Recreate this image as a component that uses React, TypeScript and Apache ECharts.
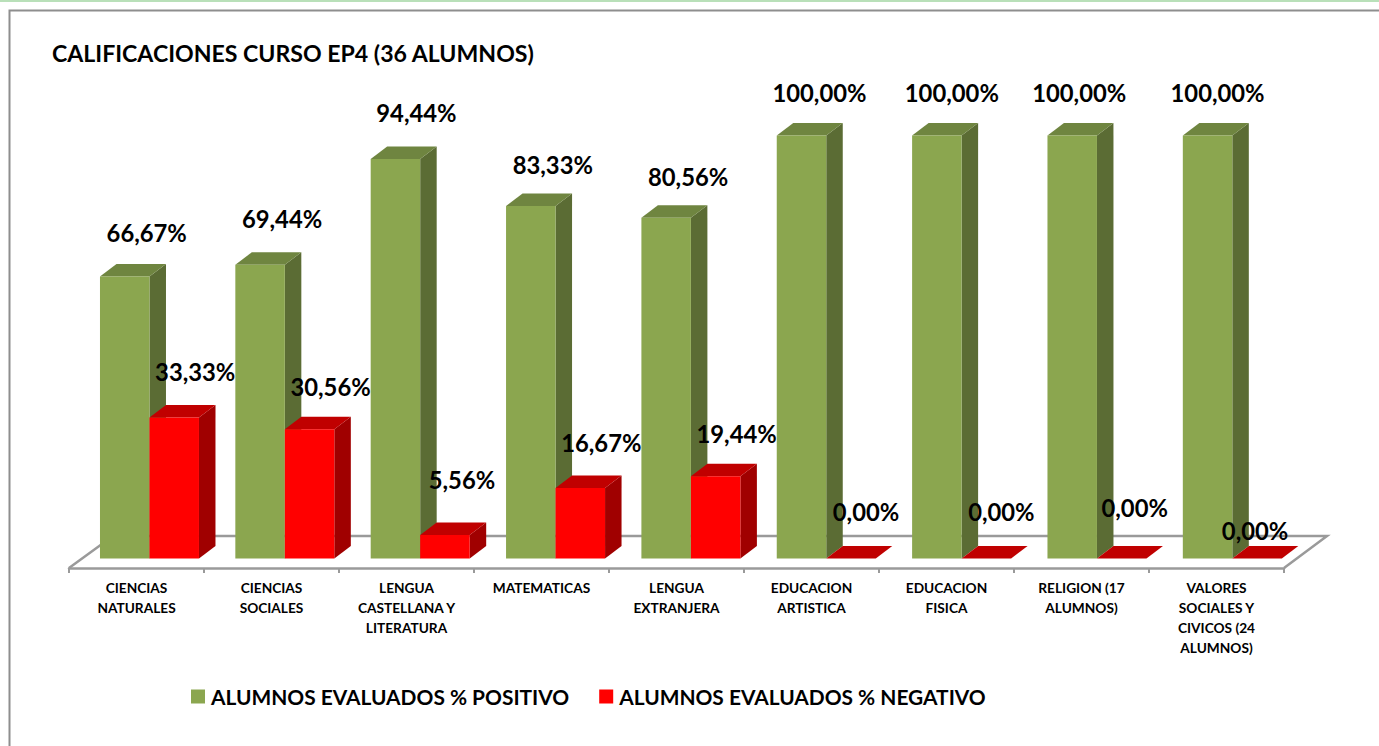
import React, { useEffect, useRef } from "react";
import * as echarts from "echarts";

const titleText = "CALIFICACIONES CURSO EP4 (36 ALUMNOS)";
const categories = [
  "CIENCIAS\nNATURALES",
  "CIENCIAS\nSOCIALES",
  "LENGUA\nCASTELLANA Y\nLITERATURA",
  "MATEMATICAS",
  "LENGUA\nEXTRANJERA",
  "EDUCACION\nARTISTICA",
  "EDUCACION\nFISICA",
  "RELIGION (17\nALUMNOS)",
  "VALORES\nSOCIALES Y\nCIVICOS (24\nALUMNOS)",
];
const positiveValues = [66.67, 69.44, 94.44, 83.33, 80.56, 100, 100, 100, 100];
const negativeValues = [33.33, 30.56, 5.56, 16.67, 19.44, 0, 0, 0, 0];
const positiveName = "ALUMNOS EVALUADOS % POSITIVO";
const negativeName = "ALUMNOS EVALUADOS % NEGATIVO";

// Hand-placed label shifts from the bar's front-top centre, as in the reference
const positiveNudge = [
  [22, -43], [22, -46], [21, -46], [22, -41], [22, -41], [18, -43], [15, -43], [7, -43], [10, -43],
];
const negativeNudge = [
  [21, -46], [21, -42], [17, -55], [21, -45], [21, -42], [15, -47], [15, -47], [13, -51], [-2, -28],
];

const FONT = "Lato, Carlito, Calibri, sans-serif";
const BAR_W = 49.5;
const DX = 16.5;
const DY = -12.5;

function format(v: number) {
  return v.toFixed(2).replace(".", ",") + "%";
}

function barRenderer(side: -1 | 1, front: string, top: string, right: string, nudge: number[][]) {
  return (params: any, api: any) => {
    const i = api.value(0);
    const v = api.value(1);
    const c = api.coord([i, v]);
    const b = api.coord([i, 0]);
    const x0 = side < 0 ? c[0] - BAR_W : c[0];
    const x1 = x0 + BAR_W;
    const yt = c[1];
    const yb = b[1];
    const poly = (points: number[][], fill: string) => ({
      type: "polygon",
      shape: { points },
      style: { fill, stroke: null },
    });
    const children: any[] = [
      poly([[x1, yb], [x1 + DX, yb + DY], [x1 + DX, yt + DY], [x1, yt]], right),
      poly([[x0, yt], [x0 + DX, yt + DY], [x1 + DX, yt + DY], [x1, yt]], top),
    ];
    if (yb - yt > 0.5) children.push(poly([[x0, yt], [x1, yt], [x1, yb], [x0, yb]], front));
    children.push({
      type: "text",
      z2: 100,
      x: (x0 + x1) / 2 + nudge[i][0],
      y: yt + nudge[i][1],
      style: {
        text: format(v),
        fill: "#000",
        fontFamily: FONT,
        fontWeight: "bold",
        fontSize: 23.8,
        align: "center",
        verticalAlign: "middle",
      },
    });
    return { type: "group", children };
  };
}

export default function App() {
  const ref = useRef<HTMLDivElement>(null);
  useEffect(() => {
    document.body.style.margin = "0";
    const chart = echarts.init(ref.current!, undefined, { renderer: "svg" });
    const gray = "#9a9a9a";
    chart.setOption({
      animation: false,
      backgroundColor: "#fff",
      title: {
        text: titleText,
        left: 47,
        top: 36,
        textStyle: { fontFamily: FONT, fontWeight: "bold", fontSize: 23.1, color: "#000" },
      },
      legend: {
        left: 186,
        top: 681,
        icon: "rect",
        itemWidth: 14,
        itemHeight: 14,
        itemGap: 30,
        selectedMode: false,
        data: [positiveName, negativeName],
        textStyle: { fontFamily: FONT, fontWeight: "bold", fontSize: 20.9, color: "#000", padding: [0, 0, 0, 1] },
      },
      grid: [
        { left: 69, width: 1215, top: 135, height: 433 },
        { left: 81.8, width: 1218.2, top: 135.5, height: 423 },
      ],
      xAxis: [
        {
          type: "category",
          gridIndex: 0,
          data: categories,
          axisLine: { lineStyle: { color: gray, width: 2.5 } },
          axisTick: { show: true, alignWithLabel: false, length: 5, lineStyle: { color: gray, width: 2 } },
          axisLabel: {
            interval: 0,
            margin: 9,
            fontFamily: FONT,
            fontWeight: "bold",
            fontSize: 13.7,
            lineHeight: 20,
            color: "#000",
            verticalAlign: "top",
          },
        },
        { type: "category", gridIndex: 1, data: categories, show: false },
      ],
      yAxis: [
        { type: "value", gridIndex: 0, min: 0, max: 100, show: false },
        { type: "value", gridIndex: 1, min: 0, max: 100, show: false },
      ],
      graphic: [
        {
          type: "rect",
          silent: true,
          shape: { x: 0, y: 0, width: 1379, height: 2 },
          style: { fill: "#b9e0b9" },
        },
        {
          type: "polyline",
          silent: true,
          shape: { points: [[9.5, 746], [9.5, 10.5], [1379, 10.5]] },
          style: { fill: "none", stroke: "#8e8e8e", lineWidth: 2 },
        },
        {
          type: "polyline",
          silent: true,
          z: -1,
          shape: { points: [[69, 568], [113, 536], [1327, 536], [1284, 568]] },
          style: { fill: "none", stroke: gray, lineWidth: 2.5 },
        },
      ],
      series: [
        {
          name: positiveName,
          type: "custom",
          xAxisIndex: 1,
          yAxisIndex: 1,
          silent: true,
          itemStyle: { color: "#8BA64F" },
          encode: { x: 0, y: 1 },
          data: positiveValues.map((v, i) => [i, v]),
          renderItem: barRenderer(-1, "#8BA64F", "#6F8540", "#5B6C34", positiveNudge),
        },
        {
          name: negativeName,
          type: "custom",
          xAxisIndex: 1,
          yAxisIndex: 1,
          silent: true,
          itemStyle: { color: "#FF0000" },
          encode: { x: 0, y: 1 },
          data: negativeValues.map((v, i) => [i, v]),
          renderItem: barRenderer(1, "#FF0000", "#C00000", "#A00000", negativeNudge),
        },
      ],
    });
    return () => chart.dispose();
  }, []);
  return <div ref={ref} style={{ width: 1379, height: 746 }} />;
}
